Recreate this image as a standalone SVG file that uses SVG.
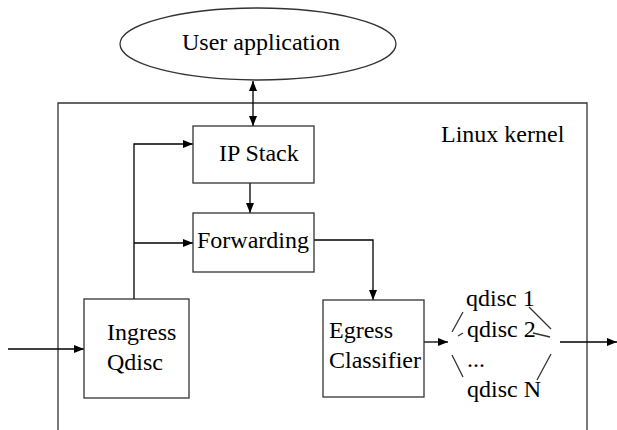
<svg xmlns="http://www.w3.org/2000/svg" width="617" height="430" viewBox="0 0 617 430">
<defs>
<style>
.t{font-family:"Liberation Serif","Times New Roman",serif;font-size:24px;fill:#000}
.b{fill:#fff;stroke:#333;stroke-width:1.3}
.l{fill:none;stroke:#333;stroke-width:1.3}
.a{fill:none;stroke:#000;stroke-width:1.3;marker-end:url(#ah)}
</style>
<marker id="ah" viewBox="0 0 10 10" refX="10" refY="5" markerWidth="10" markerHeight="10" markerUnits="userSpaceOnUse" orient="auto-start-reverse">
<path d="M0,1 L10,5 L0,9 Z" fill="#000"/>
</marker>
</defs>
<rect width="617" height="430" fill="#fff"/>
<g id="kernel">
<path class="l" d="M58,430 V103 H587 V430"/>
<text class="t" x="441" y="142">Linux kernel</text>
</g>
<g id="connectors">
<path class="a" d="M253,81 V126" marker-start="url(#ah)"/>
<path class="a" d="M134,299 V144 H193"/>
<path class="a" d="M134,243 H193"/>
<path class="a" d="M250,183 V213"/>
<path class="a" d="M314,240 H373 V300"/>
<path class="a" d="M8,349 H84"/>
<path class="a" d="M424,342 H448"/>
<path class="a" d="M560,342 H617"/>
<path class="l" d="M452,332 L463,312 M458,336 L463,333 M452,355 L463,377 M529,307 L551,329 M533,333 L550,337 M551,354 L537,380"/>
</g>
<g id="user-app">
<ellipse class="b" cx="258" cy="44" rx="138" ry="36"/>
<text class="t" x="182" y="50">User application</text>
</g>
<g id="ip-stack">
<rect class="b" x="193" y="126" width="121" height="57"/>
<text class="t" x="219" y="161">IP Stack</text>
</g>
<g id="forwarding">
<rect class="b" x="193" y="213" width="121" height="59"/>
<text class="t" x="197" y="248">Forwarding</text>
</g>
<g id="ingress">
<rect class="b" x="84" y="299" width="105" height="99"/>
<text class="t" x="107" y="340">Ingress</text>
<text class="t" x="107" y="370">Qdisc</text>
</g>
<g id="egress">
<rect class="b" x="323" y="300" width="101" height="97"/>
<text class="t" x="329" y="338">Egress</text>
<text class="t" x="329" y="368">Classifier</text>
</g>
<g id="qdiscs">
<text class="t" x="466" y="306">qdisc 1</text>
<text class="t" x="467" y="337">qdisc 2</text>
<text class="t" x="467" y="367">...</text>
<text class="t" x="467" y="397">qdisc N</text>
</g>
</svg>
